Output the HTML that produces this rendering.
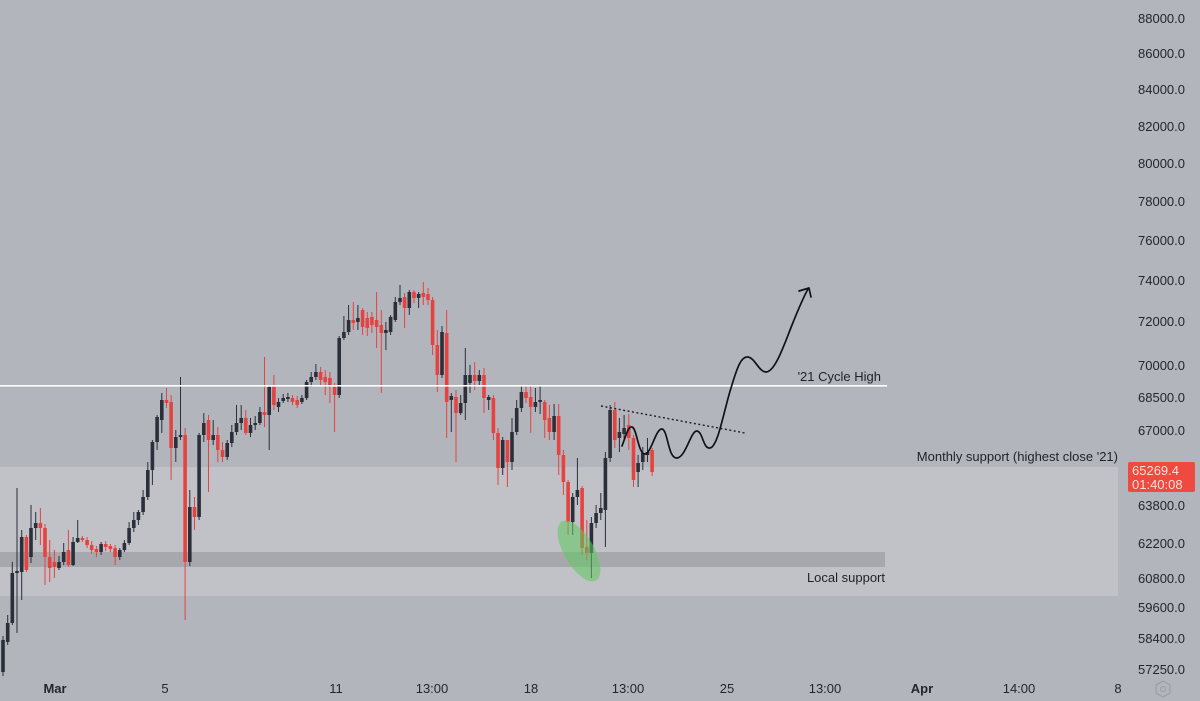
<!DOCTYPE html>
<html><head><meta charset="utf-8"><style>
html,body{margin:0;padding:0;background:#b3b5bc;}
svg{display:block;}
text{font-family:"Liberation Sans",sans-serif;}
</style></head><body>
<svg width="1200" height="701" viewBox="0 0 1200 701" xmlns="http://www.w3.org/2000/svg">
<rect x="0" y="0" width="1200" height="701" fill="#b3b5bc"/>
<rect x="0" y="467" width="1118" height="129" fill="#c0c2c8"/>
<rect x="0" y="552" width="885" height="15" fill="#a6a8ae"/>

<g stroke-width="1">
<path stroke="#2b2f3a" fill="none" d="M3 636V676M7.7 615V645M12.3 562V625M17 488V633M21.7 530V600M31 505V563M35.7 512V540M59 556V570M63.7 543V565M73.1 537V566M77.7 520V543M101.1 542V555M119.8 548V560M124.4 540V552M129.1 522V545M133.8 512V532M138.4 510V525M143.1 490V515M147.8 462V500M152.4 440V485M157.1 415V450M161.8 393V433M175.8 430V462M180.5 377V440M189.8 490V566M199.1 433V520M203.8 413V442M213.2 420V445M227.2 440V460M231.8 425V447M236.5 405V435M241.2 405V430M250.5 418V437M255.2 416V430M259.9 407V425M269.2 385V450M278.5 398V412M283.2 394V403M287.9 393V402M301.9 395V404M306.6 380V400M311.2 372V387M315.9 364V380M339.2 336V398M343.9 316V340M348.6 305V335M357.9 305V330M385.9 322V350M390.6 315V335M395.3 297V322M400 285V305M409.3 290V315M418.6 292V308M442 326V378M451.3 393V432M460.7 395V415M465.3 348V420M470 365V393M479.3 370V385M488.7 395V410M502.7 437V475M512 418V470M516.7 400V435M521.4 385V412M535.4 388V412M540.1 385V414M554.1 404V440M572.7 493V535M577.4 458V505M591.4 517V578M596.1 505V528M600.8 493V520M605.4 452V547M610.1 405V462M619.4 418V452M624.1 415V440M638.1 455V487M642.8 447V470M647.5 438V462"/>
<path stroke="#e5433f" fill="none" d="M26.4 535V572M40.4 508V545M45 524V585M49.7 540V582M54.4 550V578M68.4 530V567M82.4 536V542M87.1 537V548M91.7 541V554M96.4 546V557M105.7 541V551M110.4 544V552M115.1 545V565M166.5 388V408M171.1 395V480M185.1 428V620M194.5 497V530M208.5 415V492M217.8 427V462M222.5 442V462M245.8 410V435M264.5 357V427M273.9 375V410M292.5 395V405M297.2 396V408M320.6 367V385M325.2 370V395M329.9 372V403M334.6 383V432M353.3 302V330M362.6 308V335M367.3 312V336M371.9 312V333M376.6 292V348M381.3 310V393M404.6 293V328M414 290V303M423.3 282V305M428 288V305M432.6 297V355M437.3 330V392M446.7 310V438M456 390V462M474.7 362V390M484 368V413M493.4 395V440M498 428V485M507.4 440V487M526 386V403M530.7 385V433M544.7 400V438M549.4 405V440M558.7 404V475M563.4 450V495M568.1 480V535M582.1 486V555M586.8 520V560M614.8 402V448M628.8 414V450M633.5 435V487M652.1 448V476"/>
</g>
<g transform="translate(-0.1 0)">
<path fill="#2b2f3a" d="M1.3 640h3.6v32h-3.6zM6 623h3.6v19h-3.6zM10.6 573h3.6v50h-3.6zM15.3 571h3.6v2h-3.6zM20 537h3.6v35h-3.6zM29.3 528h3.6v29h-3.6zM34 523h3.6v5h-3.6zM57.3 562h3.6v6h-3.6zM62 552h3.6v10h-3.6zM71.4 542h3.6v23h-3.6zM76 538h3.6v4h-3.6zM99.4 544h3.6v8h-3.6zM118.1 550h3.6v7h-3.6zM122.7 543h3.6v7h-3.6zM127.4 528h3.6v15h-3.6zM132.1 520h3.6v8h-3.6zM136.7 512h3.6v8h-3.6zM141.4 497h3.6v15h-3.6zM146.1 470h3.6v27h-3.6zM150.7 442h3.6v28h-3.6zM155.4 417h3.6v25h-3.6zM160.1 400h3.6v20h-3.6zM174.1 437h3.6v11h-3.6zM178.8 435h3.6v2h-3.6zM188.1 507h3.6v55h-3.6zM197.4 435h3.6v82h-3.6zM202.1 423h3.6v12h-3.6zM211.5 435h3.6v5h-3.6zM225.5 443h3.6v14h-3.6zM230.1 432h3.6v11h-3.6zM234.8 423h3.6v9h-3.6zM239.5 418h3.6v5h-3.6zM248.8 425h3.6v8h-3.6zM253.5 423h3.6v2h-3.6zM258.2 412h3.6v11h-3.6zM267.5 387h3.6v28h-3.6zM276.8 402h3.6v5h-3.6zM281.5 398h3.6v3h-3.6zM286.2 397h3.6v2h-3.6zM300.2 398h3.6v4h-3.6zM304.9 382h3.6v16h-3.6zM309.5 377h3.6v5h-3.6zM314.2 372h3.6v5h-3.6zM337.5 338h3.6v57h-3.6zM342.2 332h3.6v6h-3.6zM346.9 320h3.6v12h-3.6zM356.2 318h3.6v4h-3.6zM384.2 330h3.6v3h-3.6zM388.9 317h3.6v15h-3.6zM393.6 302h3.6v18h-3.6zM398.3 298h3.6v4h-3.6zM407.6 292h3.6v16h-3.6zM416.9 294h3.6v4h-3.6zM440.3 332h3.6v43h-3.6zM449.6 396h3.6v4h-3.6zM459 403h3.6v10h-3.6zM463.6 375h3.6v28h-3.6zM468.3 375h3.6v8h-3.6zM477.6 375h3.6v6h-3.6zM487 397h3.6v3h-3.6zM501 440h3.6v28h-3.6zM510.3 432h3.6v30h-3.6zM515 408h3.6v24h-3.6zM519.7 392h3.6v16h-3.6zM533.7 402h3.6v5h-3.6zM538.4 400h3.6v2h-3.6zM552.4 416h3.6v16h-3.6zM571 497h3.6v25h-3.6zM575.7 490h3.6v7h-3.6zM589.7 523h3.6v30h-3.6zM594.4 513h3.6v10h-3.6zM599.1 508h3.6v5h-3.6zM603.7 458h3.6v52h-3.6zM608.4 410h3.6v48h-3.6zM617.7 432h3.6v6h-3.6zM622.4 428h3.6v6h-3.6zM636.4 463h3.6v9h-3.6zM641.1 453h3.6v9h-3.6zM645.8 452h3.6v3h-3.6z"/>
<path fill="#e5433f" d="M24.7 537h3.6v33h-3.6zM38.7 523h3.6v5h-3.6zM43.3 528h3.6v29h-3.6zM48 557h3.6v11h-3.6zM52.7 562h3.6v5h-3.6zM66.7 550h3.6v15h-3.6zM80.7 538h3.6v2h-3.6zM85.4 540h3.6v5h-3.6zM90 545h3.6v5h-3.6zM94.7 549h3.6v3h-3.6zM104 544h3.6v3h-3.6zM108.7 546h3.6v3h-3.6zM113.4 548h3.6v9h-3.6zM164.8 400h3.6v3h-3.6zM169.4 402h3.6v46h-3.6zM183.4 435h3.6v127h-3.6zM192.8 507h3.6v10h-3.6zM206.8 420h3.6v20h-3.6zM216.1 435h3.6v15h-3.6zM220.8 450h3.6v7h-3.6zM244.1 418h3.6v15h-3.6zM262.8 412h3.6v3h-3.6zM272.2 387h3.6v18h-3.6zM290.8 398h3.6v4h-3.6zM295.5 400h3.6v5h-3.6zM318.9 372h3.6v8h-3.6zM323.5 377h3.6v5h-3.6zM328.2 378h3.6v7h-3.6zM332.9 387h3.6v8h-3.6zM351.6 320h3.6v3h-3.6zM360.9 310h3.6v17h-3.6zM365.6 318h3.6v10h-3.6zM370.2 317h3.6v8h-3.6zM374.9 320h3.6v7h-3.6zM379.6 325h3.6v8h-3.6zM402.9 297h3.6v11h-3.6zM412.3 292h3.6v6h-3.6zM421.6 293h3.6v4h-3.6zM426.3 294h3.6v6h-3.6zM430.9 300h3.6v45h-3.6zM435.6 345h3.6v30h-3.6zM445 333h3.6v69h-3.6zM454.3 397h3.6v16h-3.6zM473 375h3.6v6h-3.6zM482.3 375h3.6v23h-3.6zM491.7 398h3.6v35h-3.6zM496.3 433h3.6v35h-3.6zM505.7 440h3.6v22h-3.6zM524.3 392h3.6v6h-3.6zM529 397h3.6v10h-3.6zM543 402h3.6v18h-3.6zM547.7 418h3.6v14h-3.6zM557 416h3.6v39h-3.6zM561.7 455h3.6v27h-3.6zM566.4 482h3.6v40h-3.6zM580.4 488h3.6v60h-3.6zM585.1 547h3.6v6h-3.6zM613.1 410h3.6v30h-3.6zM627.1 425h3.6v13h-3.6zM631.8 438h3.6v42h-3.6zM650.4 450h3.6v22h-3.6z"/>
</g>

<!-- 21 cycle high line -->
<rect x="0" y="385" width="887" height="1.6" fill="#ffffff"/>

<!-- green highlight -->
<ellipse cx="579" cy="551" rx="34" ry="15" transform="rotate(60 579 551)" fill="#5cc85c" fill-opacity="0.55"/>

<!-- dotted trendline -->
<line x1="601" y1="406" x2="745" y2="433" stroke="#1c1e24" stroke-width="1.4" stroke-dasharray="2 2.5"/>

<!-- projection curve -->
<path fill="none" stroke="#111216" stroke-width="1.7" stroke-linecap="round" stroke-linejoin="round" d="M622 446 C626 436, 628 426, 632 427 C637 428, 638 454, 645 454 C651 454, 656 428, 662 429 C668 430, 668 459, 677 458 C686 457, 691 430, 697 431 C703 432, 703 449, 710 448 C718 447, 724 410, 731 388 C737 368, 741 356, 748 357 C755 358, 759 372, 766 372 C775 372, 784 345, 792 325 C798 310, 803 298, 808 289"/>
<path fill="none" stroke="#111216" stroke-width="1.7" stroke-linecap="round" stroke-linejoin="round" d="M799 291 L809 288 L811 297"/>

<!-- annotations -->
<g font-size="13" fill="#1f2229">
<text x="881" y="381" text-anchor="end">'21 Cycle High</text>
<text x="1118" y="461" text-anchor="end">Monthly support (highest close '21)</text>
<text x="885" y="582" text-anchor="end">Local support</text>
</g>

<!-- right axis -->
<g font-size="13" fill="#23262e" text-anchor="end">
<text x="1185" y="23">88000.0</text>
<text x="1185" y="58">86000.0</text>
<text x="1185" y="94">84000.0</text>
<text x="1185" y="131">82000.0</text>
<text x="1185" y="168">80000.0</text>
<text x="1185" y="206">78000.0</text>
<text x="1185" y="245">76000.0</text>
<text x="1185" y="285">74000.0</text>
<text x="1185" y="326">72000.0</text>
<text x="1185" y="370">70000.0</text>
<text x="1185" y="402">68500.0</text>
<text x="1185" y="435">67000.0</text>
<text x="1185" y="510">63800.0</text>
<text x="1185" y="548">62200.0</text>
<text x="1185" y="583">60800.0</text>
<text x="1185" y="612">59600.0</text>
<text x="1185" y="643">58400.0</text>
<text x="1185" y="674">57250.0</text>
</g>

<!-- price tag -->
<rect x="1128" y="462" width="67" height="30" rx="2" fill="#ee4a3f"/>
<g font-size="13" fill="#fbe0dc">
<text x="1132" y="475">65269.4</text>
<text x="1132" y="489">01:40:08</text>
</g>

<!-- bottom axis -->
<g font-size="13" fill="#23262e" text-anchor="middle">
<text x="55" y="693" font-weight="bold">Mar</text>
<text x="165" y="693">5</text>
<text x="336" y="693">11</text>
<text x="432" y="693">13:00</text>
<text x="531" y="693">18</text>
<text x="628" y="693">13:00</text>
<text x="727" y="693">25</text>
<text x="825" y="693">13:00</text>
<text x="922" y="693" font-weight="bold">Apr</text>
<text x="1019" y="693">14:00</text>
<text x="1118" y="693">8</text>
</g>
<!-- gear icon -->
<polygon points="1163,681 1170,685 1170,693 1163,697 1156,693 1156,685" fill="none" stroke="#9c9ea5" stroke-width="1.2"/>
<circle cx="1163" cy="689" r="2.5" fill="none" stroke="#9c9ea5" stroke-width="1.1"/>
</svg>
</body></html>
